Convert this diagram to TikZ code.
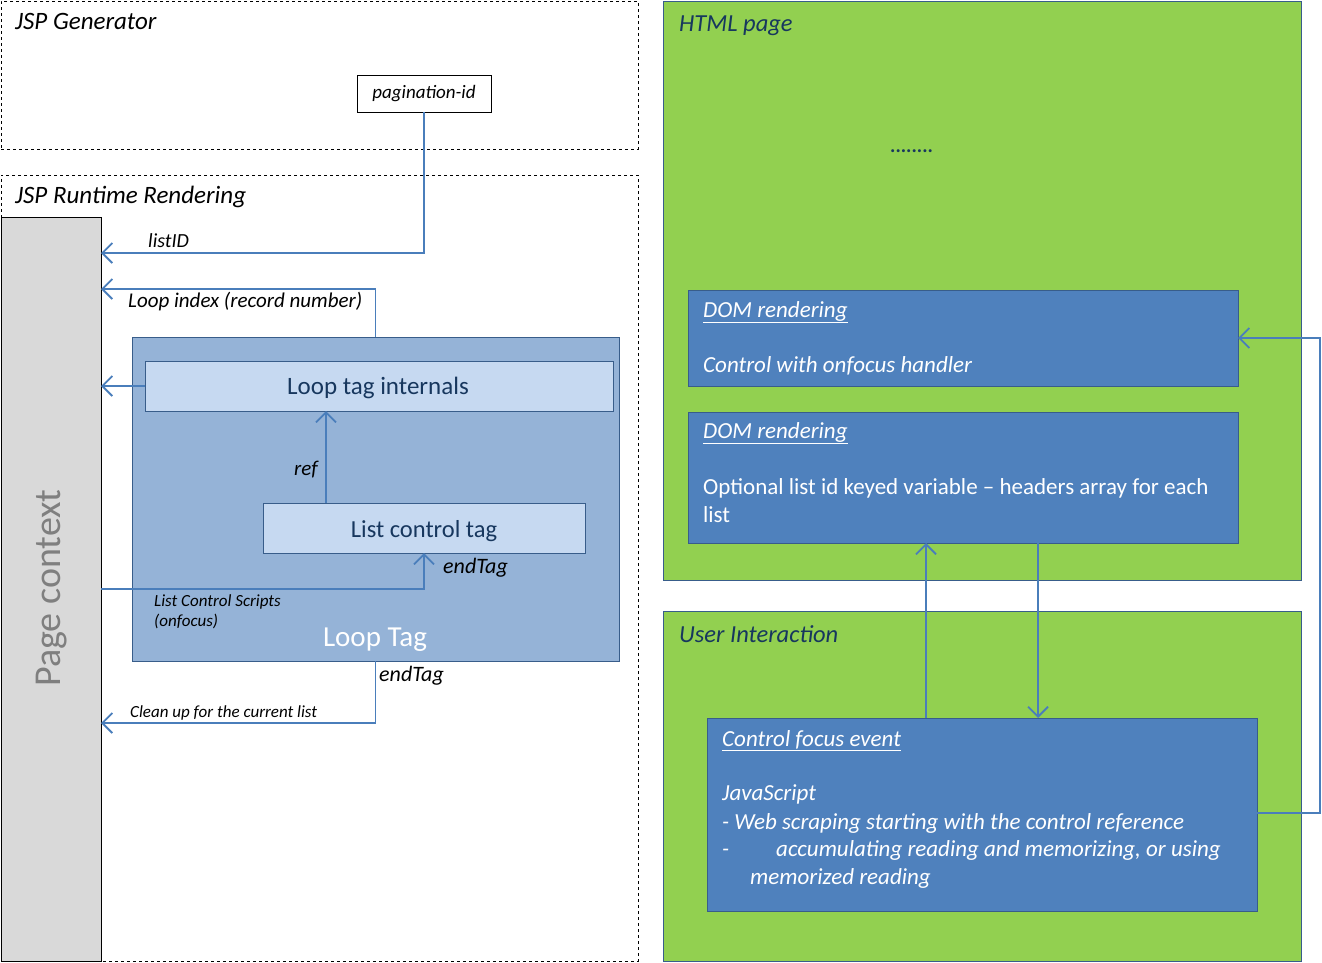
\documentclass[tikz,border=0pt]{standalone}
\usepackage{fontspec}
\setmainfont{Carlito}
\usetikzlibrary{arrows.meta}
\definecolor{lineblue}{HTML}{4A7EBB}
\definecolor{edgeblue}{HTML}{385D8A}
\definecolor{looptagfill}{HTML}{95B3D7}
\definecolor{innerfill}{HTML}{C6D9F1}
\definecolor{domfill}{HTML}{4F81BD}
\definecolor{greenfill}{HTML}{92D050}
\definecolor{navy}{HTML}{17375E}
\definecolor{ctxgray}{HTML}{D9D9D9}
\definecolor{ctxtext}{HTML}{7F7F7F}
\tikzset{
  box/.style={inner sep=0pt, outer sep=0pt, anchor=north west},
  dashbox/.style={box, draw=black, dashed, line width=0.8pt},
  greenbox/.style={box, draw=edgeblue, fill=greenfill, line width=1pt},
  dombox/.style={box, draw=edgeblue, fill=domfill, line width=1pt},
  lightbox/.style={inner sep=0pt, outer sep=0pt, anchor=north west, draw=edgeblue, fill=innerfill, line width=1pt},
  lbl/.style={inner sep=0pt, anchor=base west},
  arr/.style={draw=lineblue, line width=1.8pt, -{Straight Barb[length=10pt,width=20pt]}},
}
\begin{document}
\begin{tikzpicture}[x=1pt,y=-1pt]
\useasboundingbox (0,0) rectangle (1322,962);
% ---------- left side ----------
\node[dashbox, minimum width=637pt, minimum height=148pt] (gen) at (1,1) {};
\node[lbl, font=\fontsize{25}{30}\selectfont\itshape] (gentitle) at (15,29) {JSP Generator};
\node[box, draw=black, fill=white, line width=0.8pt, minimum width=134pt, minimum height=37pt] (pid) at (357,75) {};
\node[font=\fontsize{19}{23}\selectfont\itshape, inner sep=0pt] (pidt) at (pid.center) {pagination-id};

\node[dashbox, minimum width=637pt, minimum height=786pt] (run) at (1,175) {};
\node[lbl, font=\fontsize{25}{30}\selectfont\itshape] (runtitle) at (15,203) {JSP Runtime Rendering};

\node[box, draw=black, fill=ctxgray, line width=0.8pt, minimum width=100pt, minimum height=744pt] (pc) at (1,217) {};
\node[rotate=90, font=\fontsize{38}{44}\selectfont, text=ctxtext, inner sep=0pt] (pct) at (52,588) {Page context};

\node[box, draw=edgeblue, fill=looptagfill, line width=1pt, minimum width=487pt, minimum height=324pt] (lt) at (132,337) {};
\node[font=\fontsize{29}{34}\selectfont, text=white, inner sep=0pt, anchor=base] (ltt) at (375,646) {Loop Tag};

\node[lightbox, minimum width=468pt, minimum height=50pt] (lti) at (145,361) {};
\node[font=\fontsize{25}{30}\selectfont, text=navy, inner sep=0pt, anchor=base] (ltit) at (378,394) {Loop tag internals};

\node[lightbox, minimum width=322pt, minimum height=50pt] (lct) at (263,503) {};
\node[font=\fontsize{24.5}{29}\selectfont, text=navy, inner sep=0pt, anchor=base] (lctt) at (424,537) {List control tag};

% connectors left
\draw[arr] (pid.south) |- (pc.east |- 0,253);
\node[lbl, font=\fontsize{20}{24}\selectfont\itshape] (listid) at (148,247) {listID};

\draw[arr] (lt.north) |- (pc.east |- 0,289);
\node[lbl, font=\fontsize{21}{25}\selectfont\itshape] (loopidx) at (128,307) {Loop index (record number)};

\draw[arr] (lti.west) -- (pc.east |- lti.west);

\draw[arr] (lct.north -| 326,0) -- (lti.south -| 326,0);
\node[lbl, font=\fontsize{21}{25}\selectfont\itshape] (ref) at (294,475) {ref};

\draw[arr] (pc.east |- 0,589) -| (lct.south);
\node[lbl, font=\fontsize{22}{26}\selectfont\itshape] (endtag1) at (443,573) {endTag};
\node[lbl, font=\fontsize{17}{20}\selectfont\itshape] (lcs1) at (154,606) {List Control Scripts};
\node[lbl, font=\fontsize{17}{20}\selectfont\itshape] (lcs2) at (154,626) {(onfocus)};

\draw[arr] (lt.south) |- (pc.east |- 0,723);
\node[lbl, font=\fontsize{22}{26}\selectfont\itshape] (endtag2) at (379,681) {endTag};
\node[lbl, font=\fontsize{17}{20}\selectfont\itshape] (cleanup) at (130,717) {Clean up for the current list};

% ---------- right side ----------
\node[greenbox, minimum width=638pt, minimum height=579pt] (html) at (663,1) {};
\node[lbl, font=\fontsize{24.5}{29}\selectfont\itshape, text=navy] (htmlt) at (679,31) {HTML page};
\node[lbl, font=\fontsize{20}{24}\selectfont\bfseries, text=navy] (dots) at (890,152) {........};

\node[dombox, minimum width=550pt, minimum height=96pt] (dom1) at (688,290) {};
\node[lbl, font=\fontsize{23}{27}\selectfont\itshape, text=white] (dom1a) at (703,317) {\underline{DOM rendering}};
\node[lbl, font=\fontsize{23}{27}\selectfont\itshape, text=white] (dom1b) at (703,372) {Control with onfocus handler};

\node[dombox, minimum width=550pt, minimum height=131pt] (dom2) at (688,412) {};
\node[lbl, font=\fontsize{23}{27}\selectfont\itshape, text=white] (dom2a) at (703,438) {\underline{DOM rendering}};
\node[lbl, font=\fontsize{23}{27}\selectfont, text=white] (dom2b) at (703,494) {Optional list id keyed variable -- headers array for each};
\node[lbl, font=\fontsize{23}{27}\selectfont, text=white] (dom2c) at (703,522) {list};

\node[greenbox, minimum width=638pt, minimum height=350pt] (ui) at (663,611) {};
\node[lbl, font=\fontsize{24.5}{29}\selectfont\itshape, text=navy] (uit) at (679,642) {User Interaction};

\node[dombox, minimum width=550pt, minimum height=193pt] (cfe) at (707,718) {};
\node[lbl, font=\fontsize{23}{27}\selectfont\itshape, text=white] (cfe1) at (722,746) {\underline{Control focus event}};
\node[lbl, font=\fontsize{23}{27}\selectfont\itshape, text=white] (cfe2) at (722,800) {JavaScript};
\node[lbl, font=\fontsize{23}{27}\selectfont\itshape, text=white] (cfe3) at (722,829) {- Web scraping starting with the control reference};
\node[lbl, font=\fontsize{23}{27}\selectfont\itshape, text=white] (cfe4a) at (722,856) {-};
\node[lbl, font=\fontsize{23}{27}\selectfont\itshape, text=white] (cfe4b) at (776,856) {accumulating reading and memorizing, or using};
\node[lbl, font=\fontsize{23}{27}\selectfont\itshape, text=white] (cfe5) at (750,884) {memorized reading};

\draw[arr] (cfe.north -| 926,0) -- (dom2.south -| 926,0);
\draw[arr] (dom2.south -| 1038,0) -- (cfe.north -| 1038,0);
\coordinate (fb) at (1320,338);
\draw[arr] (cfe.east |- 0,813) -| (fb) -- (dom1.east |- fb);
\end{tikzpicture}
\end{document}
